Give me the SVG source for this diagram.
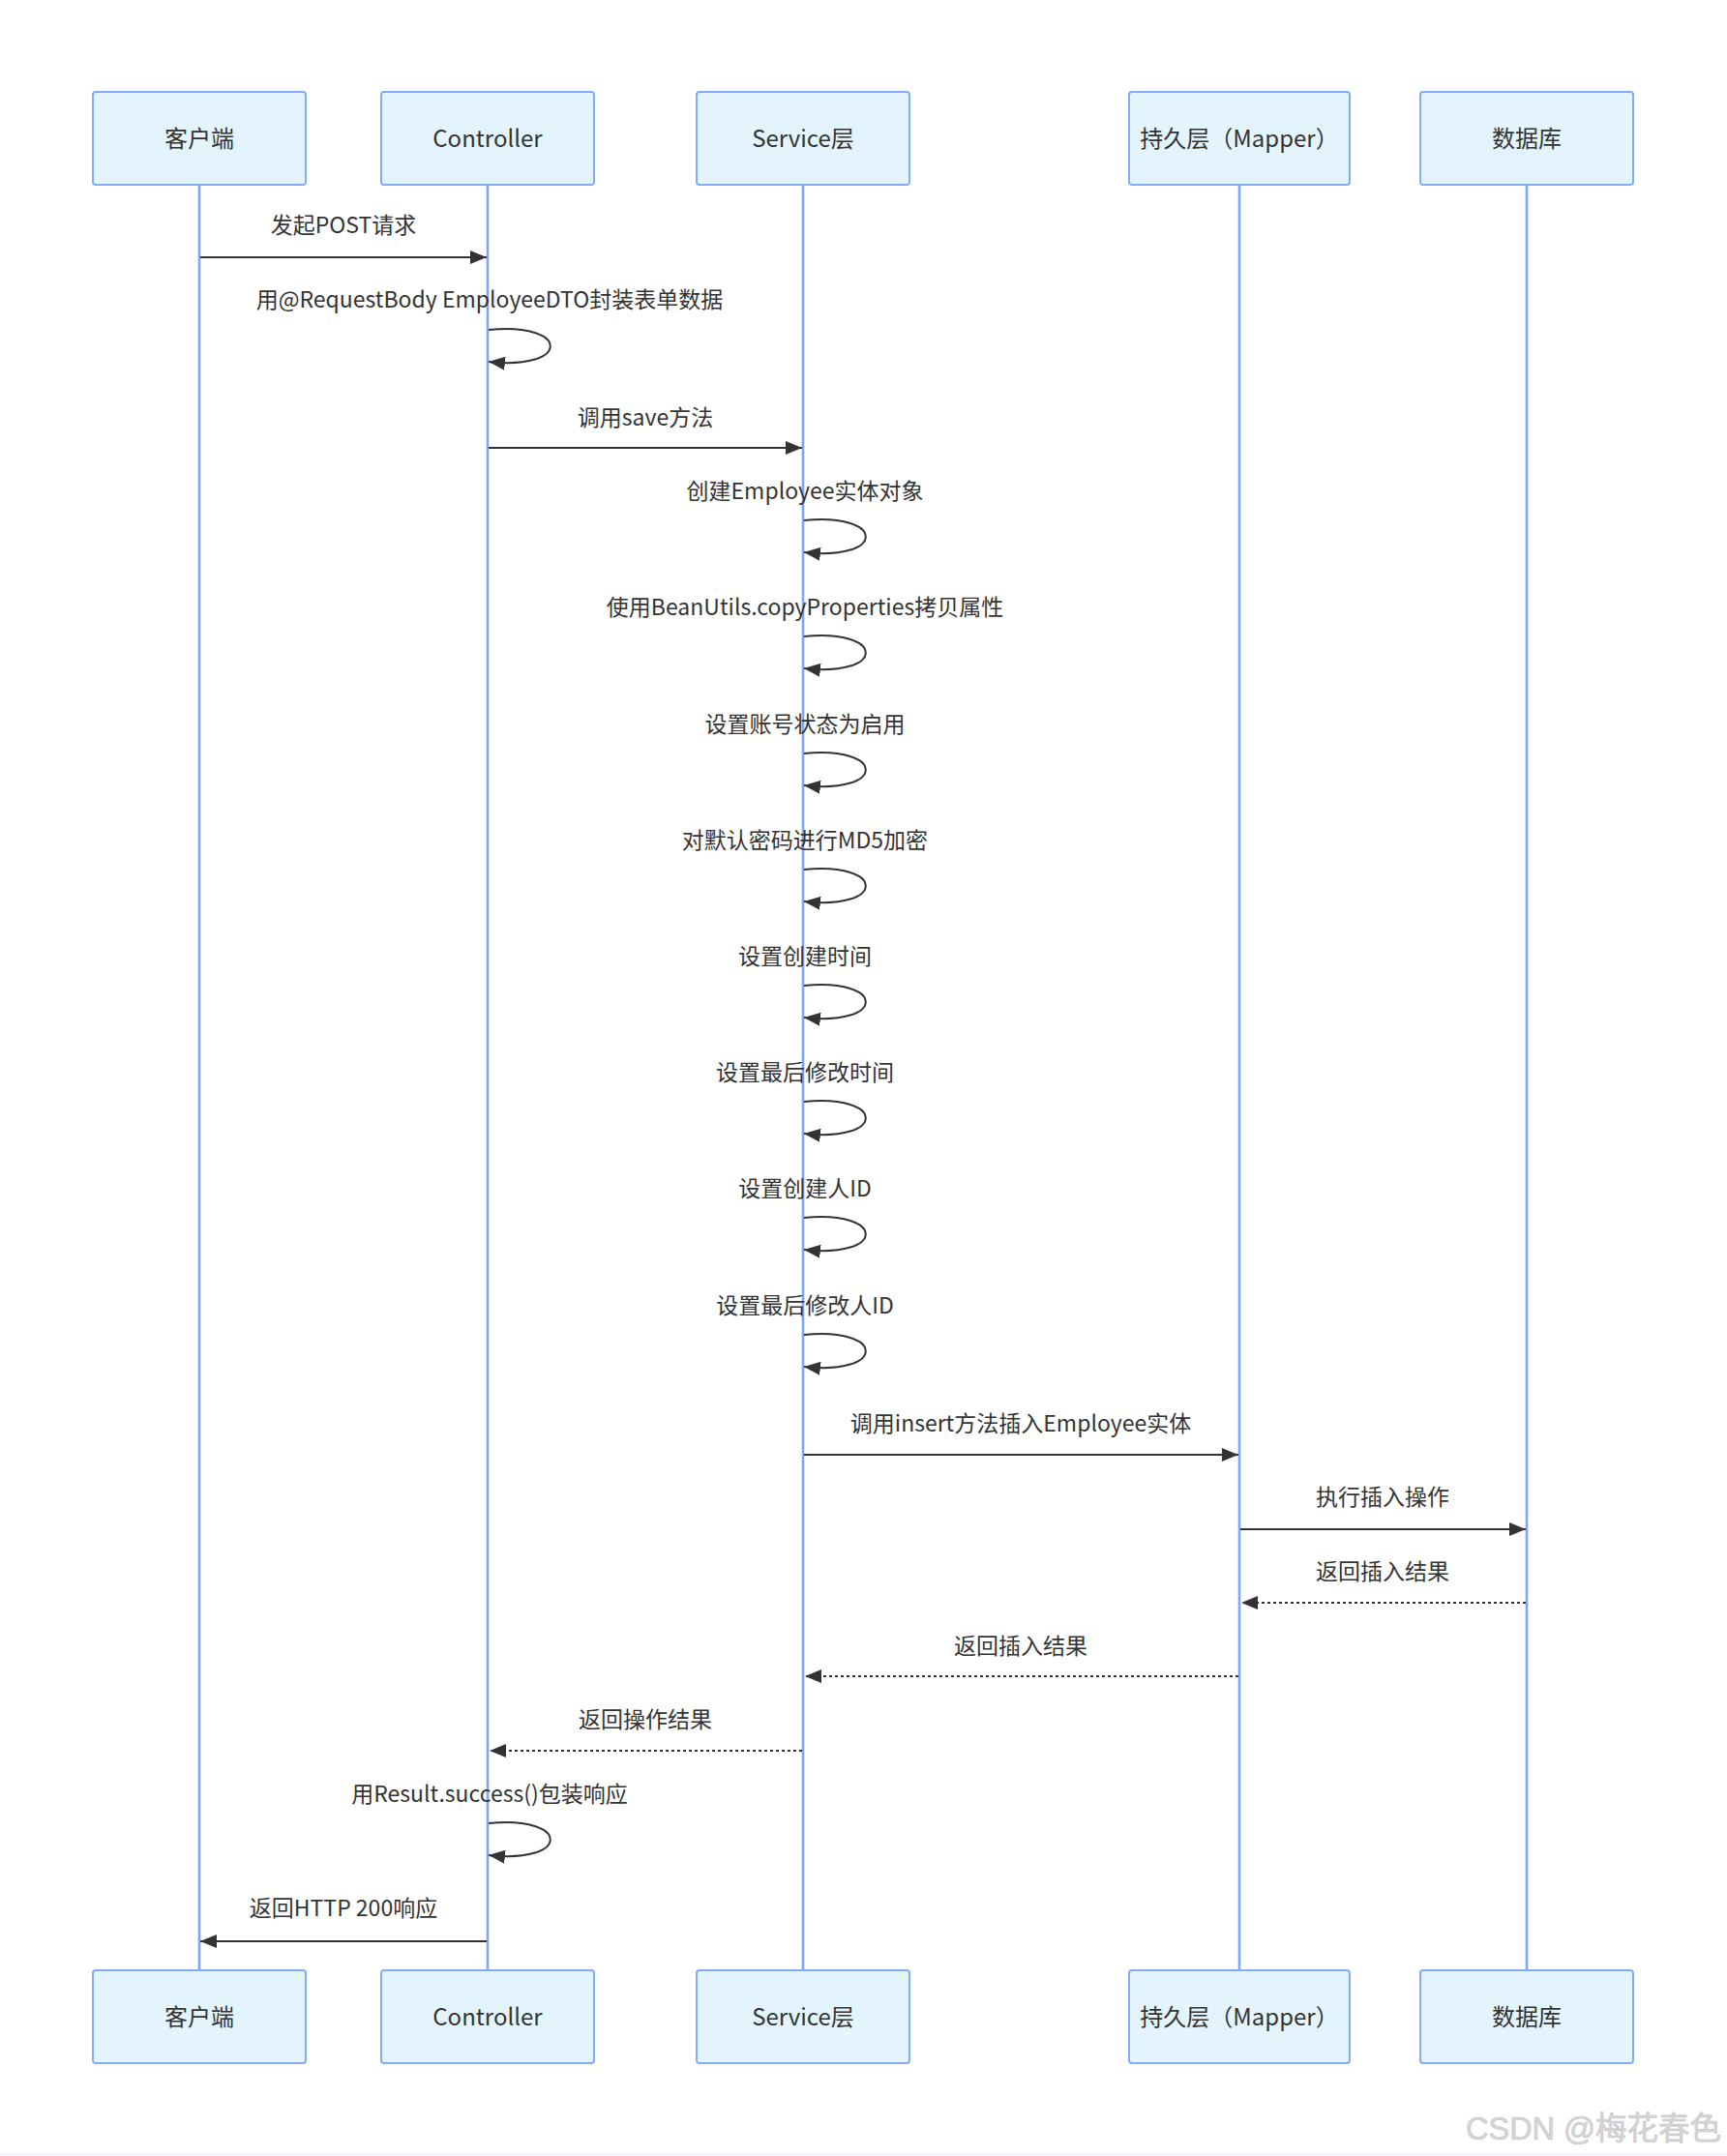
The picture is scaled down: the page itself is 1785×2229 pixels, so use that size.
<svg xmlns="http://www.w3.org/2000/svg" width="1785" height="2229" viewBox="0 0 1785 2229">
<style>
.bg{fill:#ffffff}
.actor rect{fill:#e4f4fd;stroke:#84abf6;stroke-width:2}
.actor text{font-family:"Noto Sans CJK SC","Noto Sans",sans-serif;font-size:24px;fill:#333333;text-anchor:middle}
.life{stroke:#7ea6f7;stroke-width:2.6;fill:none}
.msg{stroke:#333333;stroke-width:2;fill:none}
.dash{stroke-dasharray:3 3}
.lbl{font-family:"Noto Sans CJK SC","Noto Sans",sans-serif;font-size:23px;fill:#333333;text-anchor:middle}
.wm{font-family:"Liberation Sans","Noto Sans CJK SC",sans-serif;font-size:32.5px;fill:#d6d6d6;stroke:#c4c4c4;stroke-width:0.6}
</style>
<defs>
<marker id="arr" viewBox="0 0 17 14" refX="17" refY="7" markerWidth="17" markerHeight="14" markerUnits="userSpaceOnUse" orient="auto">
<path d="M0,0 L17,7 L0,14 z" fill="#333333"/>
</marker>
</defs>
<rect class="bg" x="0" y="0" width="1785" height="2229"/>
<line x1="0" y1="2227.5" x2="1785" y2="2227.5" stroke="#f2f3fc" stroke-width="2"/>
<g id="lifelines">
<line class="life" x1="206" y1="191" x2="206" y2="2037"/>
<line class="life" x1="504" y1="191" x2="504" y2="2037"/>
<line class="life" x1="830" y1="191" x2="830" y2="2037"/>
<line class="life" x1="1281" y1="191" x2="1281" y2="2037"/>
<line class="life" x1="1578" y1="191" x2="1578" y2="2037"/>
</g>
<g id="client-top" class="actor"><rect x="96" y="95" width="220" height="96" rx="3"/><text x="206" y="152">客户端</text></g>
<g id="controller-top" class="actor"><rect x="394" y="95" width="220" height="96" rx="3"/><text x="504" y="152">Controller</text></g>
<g id="service-top" class="actor"><rect x="720" y="95" width="220" height="96" rx="3"/><text x="830" y="152">Service层</text></g>
<g id="mapper-top" class="actor"><rect x="1167" y="95" width="228" height="96" rx="3"/><text x="1281" y="152">持久层（Mapper）</text></g>
<g id="db-top" class="actor"><rect x="1468" y="95" width="220" height="96" rx="3"/><text x="1578" y="152">数据库</text></g>
<g id="client-bottom" class="actor"><rect x="96" y="2037" width="220" height="96" rx="3"/><text x="206" y="2094">客户端</text></g>
<g id="controller-bottom" class="actor"><rect x="394" y="2037" width="220" height="96" rx="3"/><text x="504" y="2094">Controller</text></g>
<g id="service-bottom" class="actor"><rect x="720" y="2037" width="220" height="96" rx="3"/><text x="830" y="2094">Service层</text></g>
<g id="mapper-bottom" class="actor"><rect x="1167" y="2037" width="228" height="96" rx="3"/><text x="1281" y="2094">持久层（Mapper）</text></g>
<g id="db-bottom" class="actor"><rect x="1468" y="2037" width="220" height="96" rx="3"/><text x="1578" y="2094">数据库</text></g>
<g id="connectors">
<line class="msg" x1="207" y1="266" x2="503" y2="266" marker-end="url(#arr)"/>
<path class="msg" d="M505,341 C590,333 590,383 505,374" marker-end="url(#arr)"/>
<line class="msg" x1="505" y1="463" x2="829" y2="463" marker-end="url(#arr)"/>
<path class="msg" d="M831,538 C916,530 916,580 831,571" marker-end="url(#arr)"/>
<path class="msg" d="M831,658 C916,650 916,700 831,691" marker-end="url(#arr)"/>
<path class="msg" d="M831,779 C916,771 916,821 831,812" marker-end="url(#arr)"/>
<path class="msg" d="M831,899 C916,891 916,941 831,932" marker-end="url(#arr)"/>
<path class="msg" d="M831,1019 C916,1011 916,1061 831,1052" marker-end="url(#arr)"/>
<path class="msg" d="M831,1139 C916,1131 916,1181 831,1172" marker-end="url(#arr)"/>
<path class="msg" d="M831,1259 C916,1251 916,1301 831,1292" marker-end="url(#arr)"/>
<path class="msg" d="M831,1380 C916,1372 916,1422 831,1413" marker-end="url(#arr)"/>
<line class="msg" x1="831" y1="1504" x2="1280" y2="1504" marker-end="url(#arr)"/>
<line class="msg" x1="1282" y1="1581" x2="1577" y2="1581" marker-end="url(#arr)"/>
<line class="msg dash" x1="1577" y1="1657" x2="1283" y2="1657" marker-end="url(#arr)"/>
<line class="msg dash" x1="1280" y1="1733" x2="832" y2="1733" marker-end="url(#arr)"/>
<line class="msg dash" x1="829" y1="1810" x2="506" y2="1810" marker-end="url(#arr)"/>
<path class="msg" d="M505,1885 C590,1877 590,1927 505,1918" marker-end="url(#arr)"/>
<line class="msg" x1="503" y1="2007" x2="207" y2="2007" marker-end="url(#arr)"/>
</g>
<g id="labels">
<text class="lbl" x="355" y="241">发起POST请求</text>
<text class="lbl" x="506" y="318">用@RequestBody EmployeeDTO封装表单数据</text>
<text class="lbl" x="667" y="440">调用save方法</text>
<text class="lbl" x="832" y="516">创建Employee实体对象</text>
<text class="lbl" x="832" y="636">使用BeanUtils.copyProperties拷贝属性</text>
<text class="lbl" x="832" y="757">设置账号状态为启用</text>
<text class="lbl" x="832" y="877">对默认密码进行MD5加密</text>
<text class="lbl" x="832" y="997">设置创建时间</text>
<text class="lbl" x="832" y="1117">设置最后修改时间</text>
<text class="lbl" x="832" y="1237">设置创建人ID</text>
<text class="lbl" x="832" y="1358">设置最后修改人ID</text>
<text class="lbl" x="1055" y="1480">调用insert方法插入Employee实体</text>
<text class="lbl" x="1429" y="1556">执行插入操作</text>
<text class="lbl" x="1429" y="1633">返回插入结果</text>
<text class="lbl" x="1055" y="1710">返回插入结果</text>
<text class="lbl" x="667" y="1786">返回操作结果</text>
<text class="lbl" x="506" y="1863">用Result.success()包装响应</text>
<text class="lbl" x="355" y="1981">返回HTTP 200响应</text>
</g>
<text class="wm" x="1515" y="2212">CSDN @梅花春色</text>
</svg>
